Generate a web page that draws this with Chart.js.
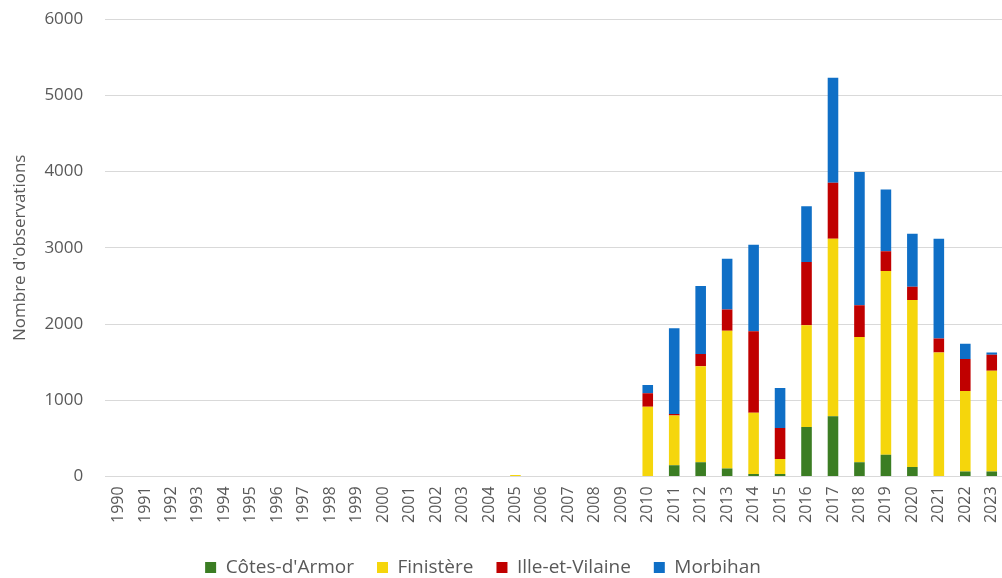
<!DOCTYPE html>
<html>
<head>
    <title>Nombre d'observations</title>
    <script src="https://cdn.jsdelivr.net/npm/chart.js"></script>
    <style>
        body { margin: 0; overflow: hidden; background: #fff; }
        #wrap { position: relative; width: 1026px; height: 598px; margin-left: -5px; margin-top: -13px; }
    </style>
</head>
<body>
    <div id="wrap"><canvas id="barChart"></canvas></div>
    <script>
        const years = [];
        for (let y = 1990; y <= 2023; y++) years.push(String(y));

        // 1990 -> 2023
        const cotesArmor = [0,0,0,0,0,0,0,0,0,0, 0,0,0,0,0,0,0,0,0,0,
            0, 145, 185, 105, 30, 30, 650, 790, 185, 285, 125, 0, 65, 65];
        const finistere = [0,0,0,0,0,0,0,0,0,0, 0,0,0,0,0,20,0,0,0,0,
            915, 655, 1260, 1805, 805, 200, 1335, 2330, 1645, 2410, 2190, 1625, 1055, 1320];
        const illeVilaine = [0,0,0,0,0,0,0,0,0,0, 0,0,0,0,0,0,0,0,0,0,
            175, 20, 160, 280, 1070, 405, 830, 735, 415, 260, 175, 185, 420, 210];
        const morbihan = [0,0,0,0,0,0,0,0,0,0, 0,0,0,0,0,0,0,0,0,0,
            110, 1125, 895, 665, 1135, 525, 730, 1375, 1750, 810, 695, 1310, 200, 30];

        const font = "'Open Sans', sans-serif";
        const txt = '#595959';

        // the legend sits a bit left of centre in the original
        const legendShift = {
            id: 'legendShift',
            afterUpdate(chart) {
                const lg = chart.legend;
                lg.left -= 27; lg.right -= 27;
                lg.top += 2; lg.bottom += 2;
            }
        };

        const ctx = document.getElementById('barChart').getContext('2d');
        const barChart = new Chart(ctx, {
            type: 'bar',
            data: {
                labels: years,
                datasets: [
                    { label: "Côtes-d'Armor", data: cotesArmor, backgroundColor: '#3b7d23' },
                    { label: 'Finistère', data: finistere, backgroundColor: '#f5d60c' },
                    { label: 'Ille-et-Vilaine', data: illeVilaine, backgroundColor: '#c00000' },
                    { label: 'Morbihan', data: morbihan, backgroundColor: '#0f6fc6' }
                ]
            },
            plugins: [legendShift],
            options: {
                responsive: true,
                maintainAspectRatio: false,
                animation: false,
                barPercentage: 0.4,
                categoryPercentage: 1,
                layout: { padding: { top: 2, right: 3, left: 7, bottom: 0 } },
                plugins: {
                    tooltip: { enabled: false },
                    legend: {
                        position: 'bottom',
                        labels: {
                            color: txt,
                            font: { family: font, size: 19 },
                            boxWidth: 11,
                            boxHeight: 11,
                            padding: 23
                        }
                    }
                },
                scales: {
                    x: {
                        stacked: true,
                        grid: { display: false, drawTicks: false },
                        border: { display: true, color: '#d9d9d9' },
                        ticks: {
                            color: txt,
                            font: { family: font, size: 16 },
                            minRotation: 90,
                            maxRotation: 90,
                            autoSkip: false,
                            padding: 10
                        }
                    },
                    y: {
                        stacked: true,
                        min: 0,
                        max: 6000,
                        grid: { color: '#d9d9d9', drawTicks: false },
                        border: { display: false },
                        ticks: {
                            stepSize: 1000,
                            color: txt,
                            font: { family: font, size: 17 },
                            padding: 22,
                            callback: v => String(v)
                        },
                        title: {
                            display: true,
                            text: "Nombre d'observations",
                            color: txt,
                            font: { family: font, size: 17 },
                            padding: { top: 8, bottom: -8 }
                        }
                    }
                }
            }
        });
    </script>
</body>
</html>
